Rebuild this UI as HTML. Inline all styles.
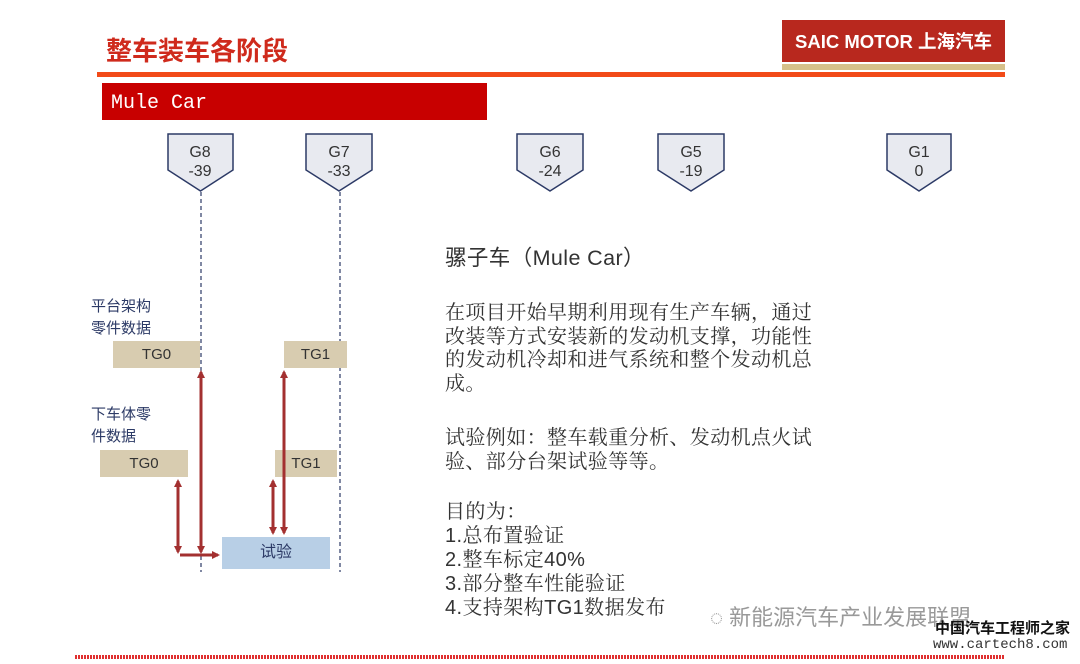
<!DOCTYPE html>
<html><head><meta charset="utf-8"><style>
body{margin:0;width:1080px;height:664px;background:#fff;position:relative;overflow:hidden;font-family:"Liberation Sans","Noto Sans CJK SC",sans-serif}
.a{position:absolute}
.tg{position:absolute;background:#d8ccb0;color:#333;font-size:15px;text-align:center;line-height:27px;height:27px}
.lbl{position:absolute;color:#2c3a66;font-size:15px;line-height:22px}
.p{position:absolute;left:445px;color:#333;font-size:20px;letter-spacing:0.4px;line-height:23.5px;font-family:"Liberation Sans","Noto Serif CJK SC",serif;white-space:nowrap}
</style></head><body>
<div class="a" style="left:106px;top:31px;color:#cf2a1c;font-size:26px;font-weight:bold;">整车装车各阶段</div>
<div class="a" style="left:97px;top:72px;width:908px;height:5px;background:#f24a18"></div>
<div class="a" style="left:782px;top:20px;width:223px;height:42px;background:#b8281e;color:#fff;font-size:18.5px;font-weight:bold;line-height:44px;text-align:center">SAIC MOTOR 上海汽车</div>
<div class="a" style="left:782px;top:64px;width:223px;height:6px;background:#d6c08a"></div>
<div class="a" style="left:102px;top:83px;width:385px;height:37px;background:#c80000;color:#fff;font-family:'Liberation Mono',monospace;font-size:20px;line-height:42px;padding-left:9px;box-sizing:border-box">Mule Car</div>
<svg class="a" style="left:0;top:0" width="1080" height="664">
<defs><marker id="m" markerWidth="8" markerHeight="8" refX="6" refY="4" orient="auto-start-reverse" markerUnits="userSpaceOnUse"><path d="M0,0L8,4L0,8z" fill="#a33030"/></marker></defs>
<g fill="#e8eaf0" stroke="#2c3a66" stroke-width="1.5">
<path d="M168,134H233V170L200.5,191L168,170Z"/>
<path d="M306,134H372V170L339,191L306,170Z"/>
<path d="M517,134H583V170L550,191L517,170Z"/>
<path d="M658,134H724V170L691,191L658,170Z"/>
<path d="M887,134H951V170L919,191L887,170Z"/>
</g>
<g font-size="16" fill="#333" text-anchor="middle">
<text x="200" y="157">G8</text><text x="200" y="176">-39</text>
<text x="339" y="157">G7</text><text x="339" y="176">-33</text>
<text x="550" y="157">G6</text><text x="550" y="176">-24</text>
<text x="691" y="157">G5</text><text x="691" y="176">-19</text>
<text x="919" y="157">G1</text><text x="919" y="176">0</text>
</g>
<g stroke="#2c3a66" stroke-width="1.2" stroke-dasharray="4,3">
<line x1="201" y1="192" x2="201" y2="572"/><line x1="340" y1="192" x2="340" y2="572"/>
</g>
<line x1="75" y1="657" x2="1005" y2="657" stroke="#e03030" stroke-width="4" stroke-dasharray="2,1"/>
</svg>
<div class="lbl" style="left:91px;top:296px">平台架构<br>零件数据</div>
<div class="lbl" style="left:91px;top:404px">下车体零<br>件数据</div>
<div class="tg" style="left:113px;top:341px;width:87px">TG0</div>
<div class="tg" style="left:284px;top:341px;width:63px">TG1</div>
<div class="tg" style="left:100px;top:450px;width:88px">TG0</div>
<div class="tg" style="left:275px;top:450px;width:62px">TG1</div>
<div class="a" style="left:222px;top:537px;width:108px;height:32px;background:#b8cfe6;color:#2c3a66;font-size:16px;text-align:center;line-height:32px">试验</div>
<svg class="a" style="left:0;top:0" width="1080" height="664">
<g stroke="#a33030" stroke-width="3" fill="none">
<line x1="201" y1="372" x2="201" y2="552" marker-start="url(#m)" marker-end="url(#m)"/>
<line x1="178" y1="481" x2="178" y2="552" marker-start="url(#m)" marker-end="url(#m)"/>
<line x1="180" y1="555" x2="218" y2="555" marker-end="url(#m)"/>
<line x1="273" y1="481" x2="273" y2="533" marker-start="url(#m)" marker-end="url(#m)"/>
<line x1="284" y1="372" x2="284" y2="533" marker-start="url(#m)" marker-end="url(#m)"/>
</g></svg>
<div class="p" style="top:247px;font-size:21.5px;font-family:'Liberation Sans','Noto Sans CJK SC',sans-serif">骡子车（Mule Car）</div>
<div class="p" style="top:302px">在项目开始早期利用现有生产车辆，通过<br>改装等方式安装新的发动机支撑，功能性<br>的发动机冷却和进气系统和整个发动机总<br>成。</div>
<div class="p" style="top:427px">试验例如：整车载重分析、发动机点火试<br>验、部分台架试验等等。</div>
<div class="p" style="top:500px;line-height:24px">目的为：<br>1.总布置验证<br>2.整车标定40%<br>3.部分整车性能验证<br>4.支持架构TG1数据发布</div>
<div class="a" style="left:710px;top:600px;color:#999;font-size:22px">◌ 新能源汽车产业发展联盟</div>
<div class="a" style="left:935px;top:617px;color:#111;font-size:15px;font-weight:bold">中国汽车工程师之家</div>
<div class="a" style="left:933px;top:637px;color:#333;font-size:14px;font-family:'Liberation Mono',monospace">www.cartech8.com</div>
</body></html>
